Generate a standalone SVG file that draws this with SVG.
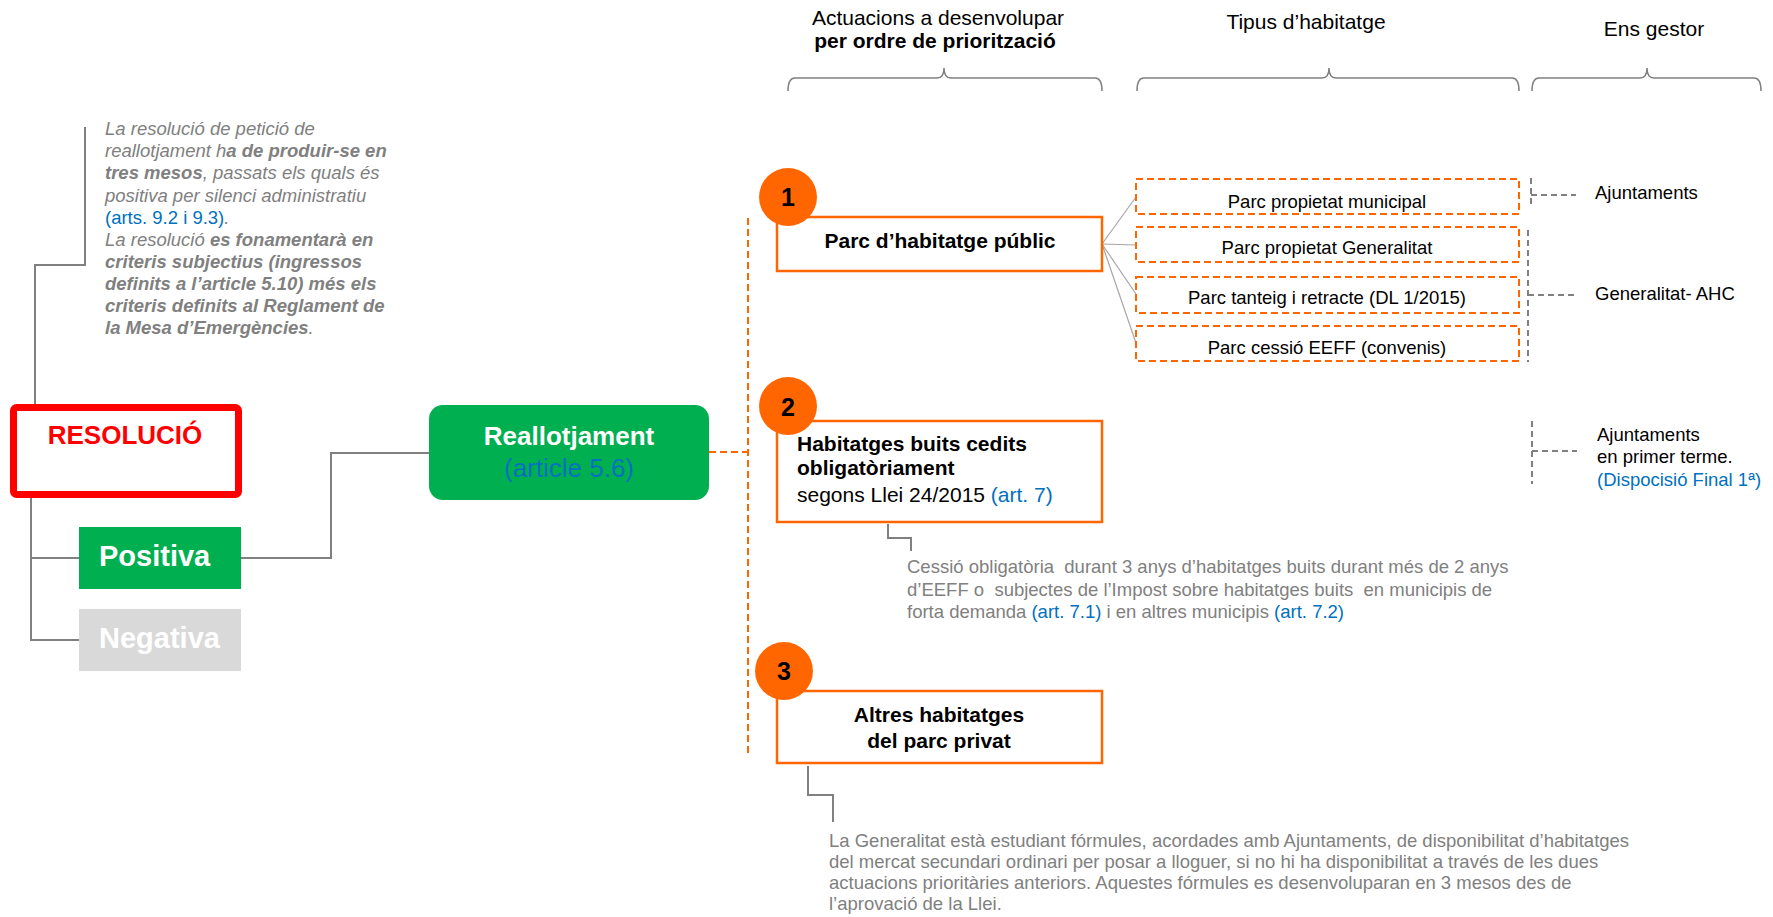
<svg xmlns="http://www.w3.org/2000/svg" width="1773" height="917" viewBox="0 0 1773 917">
<style>
text{font-family:"Liberation Sans",Arial,sans-serif}
.note{font-size:18.5px;fill:#808080;font-style:italic}
.b{font-weight:bold}
.blue{fill:#0070C0;font-style:normal}
.hdr{font-size:21px;fill:#000}
.conn{fill:none;stroke:#808080;stroke-width:2}
.fan{fill:none;stroke:#A6A6A6;stroke-width:1.2}
.gdash{fill:none;stroke:#808080;stroke-width:2;stroke-dasharray:6 4}
.odash{fill:none;stroke:#FF6600;stroke-width:2;stroke-dasharray:7 4}
.obox{fill:#fff;stroke:#FF6600;stroke-width:2.5}
.circ{fill:#FF6600}
.num{font-size:25px;font-weight:bold;fill:#000;text-anchor:middle}
.btxt{font-size:21px;font-weight:bold;fill:#000}
.ptxt{font-size:18.5px;fill:#000;text-anchor:middle}
.gtxt{font-size:18.5px;fill:#000}
.para{font-size:18.5px;fill:#808080;white-space:pre}
.lnk{fill:#0070C0}
.brk{fill:none;stroke:#808080;stroke-width:1.5}
</style>

<g id="connectors">
  <polyline class="conn" points="85,127 85,265 35,265 35,404"/>
  <polyline class="conn" points="31,498 31,640 79,640"/>
  <line class="conn" x1="31" y1="558" x2="79" y2="558"/>
  <polyline class="conn" points="241,558 331,558 331,453 429,453"/>
  <line class="odash" x1="709" y1="452" x2="748" y2="452"/>
  <line class="odash" x1="748" y1="218" x2="748" y2="757"/>
  <line class="fan" x1="1102" y1="244" x2="1136" y2="197"/>
  <line class="fan" x1="1102" y1="244" x2="1136" y2="245"/>
  <line class="fan" x1="1102" y1="244" x2="1136" y2="294"/>
  <line class="fan" x1="1102" y1="244" x2="1136" y2="343"/>
  <polyline class="conn" points="888,524 888,538 911,538 911,551"/>
  <polyline class="conn" points="808,766 808,795 833,795 833,822"/>
  <polyline class="gdash" points="1531,178 1531,208"/>
  <line class="gdash" x1="1531" y1="195" x2="1576" y2="195"/>
  <polyline class="gdash" points="1528,230 1528,362"/>
  <line class="gdash" x1="1528" y1="295" x2="1576" y2="295"/>
  <polyline class="gdash" points="1532,421 1532,484"/>
  <line class="gdash" x1="1532" y1="451" x2="1577" y2="451"/>
</g>

<g id="headers">
  <text class="hdr" x="938" y="25" text-anchor="middle">Actuacions a desenvolupar</text>
  <text class="hdr b" x="935" y="48" text-anchor="middle">per ordre de priorització</text>
  <text class="hdr" x="1306" y="29" text-anchor="middle">Tipus d’habitatge</text>
  <text class="hdr" x="1654" y="36" text-anchor="middle">Ens gestor</text>
  <path class="brk" d="M788,91 Q788,78 795,78 L937,78 Q944,78 944,68 Q944,78 951,78 L1095,78 Q1102,78 1102,91"/>
  <path class="brk" d="M1137,91 Q1137,78 1144,78 L1322,78 Q1329,78 1329,68 Q1329,78 1336,78 L1512,78 Q1519,78 1519,91"/>
  <path class="brk" d="M1532,91 Q1532,78 1539,78 L1640,78 Q1647,78 1647,68 Q1647,78 1654,78 L1754,78 Q1761,78 1761,91"/>
</g>

<g id="note">
  <text class="note" x="105" y="135">La resolució de petició de</text>
  <text class="note" x="105" y="157">reallotjament h<tspan class="b">a de produir-se en</tspan></text>
  <text class="note" x="105" y="179"><tspan class="b">tres mesos</tspan>, passats els quals és</text>
  <text class="note" x="105" y="202">positiva per silenci administratiu</text>
  <text class="note" x="105" y="224"><tspan class="blue">(arts. 9.2 i 9.3)</tspan>.</text>
  <text class="note" x="105" y="246">La resolució <tspan class="b">es fonamentarà en</tspan></text>
  <text class="note b" x="105" y="268">criteris subjectius (ingressos</text>
  <text class="note b" x="105" y="290">definits a l’article 5.10) més els</text>
  <text class="note b" x="105" y="312">criteris definits al Reglament de</text>
  <text class="note" x="105" y="334"><tspan class="b">la Mesa d’Emergències</tspan>.</text>
</g>

<g id="resolucio">
  <rect x="13.5" y="407.5" width="225" height="87" rx="3" fill="#fff" stroke="#FF0000" stroke-width="7"/>
  <text x="125" y="444" font-size="26" font-weight="bold" fill="#FF0000" text-anchor="middle">RESOLUCIÓ</text>
</g>

<g id="positiva">
  <rect x="79" y="527" width="162" height="62" fill="#00B050"/>
  <text x="99" y="566" font-size="29" font-weight="bold" fill="#fff">Positiva</text>
</g>

<g id="negativa">
  <rect x="79" y="609" width="162" height="62" fill="#D9D9D9"/>
  <text x="99" y="648" font-size="29" font-weight="bold" fill="#fff">Negativa</text>
</g>

<g id="reallotjament">
  <rect x="429" y="405" width="280" height="95" rx="14" fill="#00B050"/>
  <text x="569" y="445" font-size="26" font-weight="bold" fill="#fff" text-anchor="middle">Reallotjament</text>
  <text x="569" y="477" font-size="26" fill="#0070C0" text-anchor="middle">(article 5.6)</text>
</g>

<g id="act1">
  <rect class="obox" x="777" y="217" width="325" height="54"/>
  <circle class="circ" cx="788" cy="197" r="29"/>
  <text class="num" x="788" y="206">1</text>
  <text class="btxt" x="940" y="248" text-anchor="middle">Parc d’habitatge públic</text>
</g>

<g id="act2">
  <rect class="obox" x="777" y="421" width="325" height="101"/>
  <circle class="circ" cx="788" cy="406" r="29"/>
  <text class="num" x="788" y="416">2</text>
  <text class="btxt" x="797" y="451">Habitatges buits cedits</text>
  <text class="btxt" x="797" y="475">obligatòriament</text>
  <text x="797" y="502" font-size="21" fill="#000">segons Llei 24/2015 <tspan class="lnk">(art. 7)</tspan></text>
</g>

<g id="act3">
  <rect class="obox" x="777" y="691" width="325" height="72"/>
  <circle class="circ" cx="784" cy="671" r="29"/>
  <text class="num" x="784" y="680">3</text>
  <text class="btxt" x="939" y="722" text-anchor="middle">Altres habitatges</text>
  <text class="btxt" x="939" y="748" text-anchor="middle">del parc privat</text>
</g>

<g id="tipus-municipal">
  <rect class="odash" x="1136" y="179" width="383" height="35"/>
  <text class="ptxt" x="1327" y="208">Parc propietat municipal</text>
</g>
<g id="tipus-generalitat">
  <rect class="odash" x="1136" y="227" width="383" height="35"/>
  <text class="ptxt" x="1327" y="254">Parc propietat Generalitat</text>
</g>
<g id="tipus-tanteig">
  <rect class="odash" x="1136" y="277" width="383" height="36"/>
  <text class="ptxt" x="1327" y="304">Parc tanteig i retracte (DL 1/2015)</text>
</g>
<g id="tipus-eeff">
  <rect class="odash" x="1136" y="326" width="383" height="35"/>
  <text class="ptxt" x="1327" y="354">Parc cessió EEFF (convenis)</text>
</g>

<g id="gestor-ajuntaments">
  <text class="gtxt" x="1595" y="199">Ajuntaments</text>
</g>
<g id="gestor-generalitat">
  <text class="gtxt" x="1595" y="300">Generalitat- AHC</text>
</g>
<g id="gestor-ajuntaments2">
  <text class="gtxt" x="1597" y="441">Ajuntaments</text>
  <text class="gtxt" x="1597" y="463">en primer terme.</text>
  <text class="gtxt lnk" x="1597" y="486">(Dispocisió Final 1ª)</text>
</g>

<g id="cessio-note">
  <text class="para" x="907" y="573" xml:space="preserve">Cessió obligatòria  durant 3 anys d’habitatges buits durant més de 2 anys</text>
  <text class="para" x="907" y="596" xml:space="preserve">d’EEFF o  subjectes de l’Impost sobre habitatges buits  en municipis de</text>
  <text class="para" x="907" y="618" xml:space="preserve">forta demanda <tspan class="lnk">(art. 7.1)</tspan> i en altres municipis <tspan class="lnk">(art. 7.2)</tspan></text>
</g>

<g id="privat-note">
  <text class="para" x="829" y="847">La Generalitat està estudiant fórmules, acordades amb Ajuntaments, de disponibilitat d’habitatges</text>
  <text class="para" x="829" y="868">del mercat secundari ordinari per posar a lloguer, si no hi ha disponibilitat a través de les dues</text>
  <text class="para" x="829" y="889">actuacions prioritàries anteriors. Aquestes fórmules es desenvoluparan en 3 mesos des de</text>
  <text class="para" x="829" y="910">l’aprovació de la Llei.</text>
</g>
</svg>
